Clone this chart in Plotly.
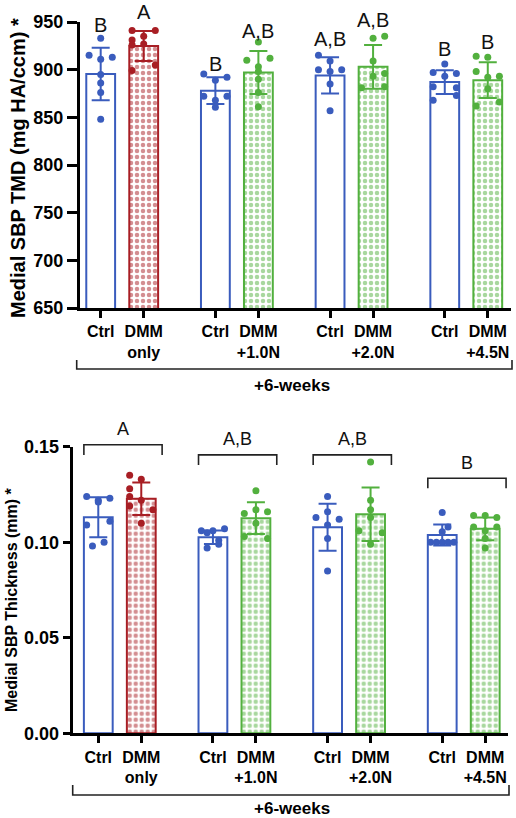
import plotly.graph_objects as go

# ---------------- data ----------------
group_names = ["only", "+1.0N", "+2.0N", "+4.5N"]
ctrl_label = "Ctrl"
dmm_label = "DMM"
bracket_label = "+6-weeks"

# Top panel: Medial SBP TMD (mg HA/ccm)
tmd_means = [895.5, 924.8, 878.0, 897.0, 894.0, 903.0, 887.0, 889.0]
tmd_sd = [27.5, 15.8, 14.0, 22.5, 19.0, 23.0, 12.5, 18.7]
tmd_points = [
    [933, 915, 913, 911, 895, 886, 876, 848],
    [941, 941, 935, 931, 927, 926, 905, 899],
    [895.5, 892, 889, 872, 872, 868, 860.5],
    [929, 912, 910, 903, 898, 890, 876, 861],
    [915, 909, 900, 898, 900, 885, 857],
    [935, 933, 909, 896, 893, 882, 881],
    [906, 897, 896, 893, 882, 881, 873, 868],
    [914, 913, 898, 893, 892, 880, 866, 862],
]
tmd_cols = [
    [0, -1, 1, 0, 0, 0, 0, 0],
    [-1, 1, 0, -1, 0, -1, 1, -1],
    [-1, 1, 0, -1, 1, 0, 0],
    [0, 1, -1, 0, 0, 0, 0, 0],
    [-1, 0, -1, 0, 1, 0, 0],
    [1, 0, 0, 1, 0, 1, -1],
    [0, -1, 1, 0, -1, 1, 1, -1],
    [-1, 0, -1, 1, 0, 0, 1, -1],
]
tmd_letters = ["B", "A", "B", "A,B", "A,B", "A,B", "B", "B"]
tmd_letter_y = [947, 960, 906, 941, 932, 952, 922, 929]
tmd_range = [650, 950]
tmd_ticks = [650, 700, 750, 800, 850, 900, 950]

# Bottom panel: Medial SBP Thickness (mm)
thk_means = [0.1131, 0.1228, 0.1026, 0.1126, 0.1078, 0.1146, 0.1038, 0.1070]
thk_sd = [0.0105, 0.0085, 0.0035, 0.0083, 0.0123, 0.0140, 0.0055, 0.0060]
thk_points = [
    [0.124, 0.123, 0.122, 0.121, 0.111, 0.109, 0.100, 0.098],
    [0.135, 0.133, 0.128, 0.124, 0.122, 0.119, 0.117, 0.110],
    [0.107, 0.106, 0.106, 0.105, 0.101, 0.099, 0.097],
    [0.127, 0.117, 0.116, 0.115, 0.110, 0.103, 0.102],
    [0.124, 0.116, 0.113, 0.112, 0.109, 0.102, 0.085],
    [0.142, 0.122, 0.117, 0.113, 0.106, 0.105, 0.099],
    [0.1155, 0.108, 0.1055, 0.100, 0.100, 0.100, 0.100, 0.100],
    [0.114, 0.114, 0.113, 0.108, 0.108, 0.106, 0.102, 0.097],
]
thk_cols = [
    [-1, 1, 0, 0, 1, -1, 0.5, -0.5],
    [-1, 0, -1, -1, 0, -1, 1, 0],
    [1, -1, 0, -0.5, 0.5, 0.5, -0.5],
    [0, 0, 1, -1, 0, -1, 1],
    [0, 0, -1, 1, 0, 0, 0],
    [0, 0, 0, 0, -1, 1, 0],
    [0, 0.5, 0, -1, -0.5, 0, 0.5, 1],
    [-1, 0, 1, -1, 1, 0, 0, 0],
]
thk_group_letters = ["A", "A,B", "A,B", "B"]
thk_bracket_y = [0.151, 0.1457, 0.1457, 0.1335]
thk_range = [0, 0.15]
thk_ticks = [0.00, 0.05, 0.10, 0.15]
thk_ticktext = ["0.00", "0.05", "0.10", "0.15"]

# ---------------- style ----------------
BLUE = "#3a5cbd"
RED = "#a81e24"
GREEN = "#52b03e"
FONT = "Liberation Sans, Arial, sans-serif"
W, H = 516, 818
GROUP_STEP = 8 / 3
BAR_W = 0.67
JIT = 0.27

def px_x(p):
    return p / W

def px_y(p):
    return 1 - p / H

def dom(v, rng):
    return (v - rng[0]) / (rng[1] - rng[0])

positions = []
for g in range(4):
    positions += [g * GROUP_STEP, g * GROUP_STEP + 1]
bar_colors = [BLUE, RED, BLUE, GREEN, BLUE, GREEN, BLUE, GREEN]
ticktext = []
for gname in group_names:
    ticktext += [ctrl_label, dmm_label + "<br>" + gname]

fig = go.Figure()

def add_panel(means, sds, points, cols, xa, ya):
    for i in range(8):
        c = bar_colors[i]
        is_ctrl = (i % 2 == 0)
        marker = dict(color="white", line=dict(color=c, width=2))
        if not is_ctrl:
            marker["pattern"] = dict(shape=".", fgcolor=c, bgcolor="white",
                                     size=6, solidity=0.45, fillmode="overlay")
        fig.add_trace(go.Bar(
            x=[positions[i]], y=[means[i]], width=BAR_W, marker=marker,
            error_y=dict(type="data", array=[sds[i]], color=c, thickness=2, width=9),
            xaxis=xa, yaxis=ya, showlegend=False, hoverinfo="skip"))
    for i in range(8):
        c = bar_colors[i]
        fig.add_trace(go.Scatter(
            x=[positions[i] + JIT * k for k in cols[i]], y=points[i],
            mode="markers", marker=dict(color=c, size=7),
            xaxis=xa, yaxis=ya, showlegend=False, hoverinfo="skip", cliponaxis=False))

add_panel(tmd_means, tmd_sd, tmd_points, tmd_cols, "x", "y")
add_panel(thk_means, thk_sd, thk_points, thk_cols, "x2", "y2")

axis_common = dict(showgrid=False, zeroline=False, showline=True, linecolor="black",
                   linewidth=3, ticks="outside", tickcolor="black", fixedrange=True,
                   automargin=False)
xtick_font = dict(family=FONT, size=16, color="black", weight="bold")
ytick_font = dict(family=FONT, size=18, color="black", weight="bold")

fig.update_layout(
    template="none",
    width=W, height=H, margin=dict(l=0, r=0, t=0, b=0, pad=0), autosize=False,
    paper_bgcolor="white", plot_bgcolor="white", barmode="overlay",
    xaxis=dict(axis_common, domain=[px_x(80), px_x(511)], range=[-0.481, 9.54],
               tickvals=positions, ticktext=ticktext, ticklen=7, tickwidth=2.5,
               tickfont=xtick_font, anchor="y"),
    yaxis=dict(axis_common, domain=[px_y(308), px_y(22)], range=tmd_range,
               tickvals=tmd_ticks, ticklen=10, tickwidth=3, tickfont=ytick_font,
               anchor="x"),
    xaxis2=dict(axis_common, domain=[px_x(72.7), px_x(508)], range=[-0.595, 9.53],
                tickvals=positions, ticktext=ticktext, ticklen=7, tickwidth=2.5,
                tickfont=xtick_font, anchor="y2"),
    yaxis2=dict(axis_common, domain=[px_y(733.3), px_y(446.7)], range=thk_range,
                tickvals=thk_ticks, ticktext=thk_ticktext, ticklen=7, tickwidth=3,
                tickfont=ytick_font, anchor="x2"),
)

annotations = []
shapes = []

# letters above bars (top)
for i in range(8):
    annotations.append(dict(x=positions[i], y=dom(tmd_letter_y[i], tmd_range),
                            xref="x", yref="y domain",
                            text=tmd_letters[i], showarrow=False, yanchor="middle",
                            xanchor="center",
                            font=dict(family=FONT, size=20, color="#111")))

# brackets with letters (bottom)
for g in range(4):
    x0 = g * GROUP_STEP - 0.335
    x1 = g * GROUP_STEP + 1.485
    yb = dom(thk_bracket_y[g], thk_range)
    yv = dom(thk_bracket_y[g] - 0.0053, thk_range)
    shapes.append(dict(type="path", xref="x2", yref="y2 domain",
                       path=f"M {x0} {yv} L {x0} {yb} L {x1} {yb} L {x1} {yv}",
                       line=dict(color="#222", width=1.6)))
    annotations.append(dict(x=(x0 + x1) / 2, y=dom(thk_bracket_y[g] + 0.0018, thk_range),
                            xref="x2", yref="y2 domain",
                            text=thk_group_letters[g], showarrow=False, yanchor="bottom",
                            xanchor="center",
                            font=dict(family=FONT, size=18, color="#111")))

# +6-weeks brackets
for (xl, xr, ytop, ybot, ytext) in [(76.7, 512, 360, 369, 385), (72.7, 509, 785, 795, 808)]:
    shapes.append(dict(type="path", xref="paper", yref="paper",
                       path=f"M {px_x(xl)} {px_y(ytop)} L {px_x(xl)} {px_y(ybot)} L {px_x(xr)} {px_y(ybot)} L {px_x(xr)} {px_y(ytop)}",
                       line=dict(color="#222", width=1.6)))
    annotations.append(dict(x=px_x(291.5), y=px_y(ytext), xref="paper", yref="paper",
                            text=bracket_label, showarrow=False, yanchor="middle",
                            xanchor="center",
                            font=dict(family=FONT, size=17, color="black", weight="bold")))

# y-axis titles
annotations.append(dict(x=px_x(18), y=px_y(168), xref="paper", yref="paper",
                        xanchor="center", yanchor="middle",
                        text="Medial SBP TMD (mg HA/ccm) *", textangle=-90, showarrow=False,
                        font=dict(family=FONT, size=20, color="black", weight="bold")))
annotations.append(dict(x=px_x(11), y=px_y(600), xref="paper", yref="paper",
                        xanchor="center", yanchor="middle",
                        text="Medial SBP Thickness (mm) *", textangle=-90, showarrow=False,
                        font=dict(family=FONT, size=16, color="black", weight="bold")))

fig.update_layout(annotations=annotations, shapes=shapes)
fig.write_html("out.html", config={"displayModeBar": False},
               post_script="document.body.style.margin='0';document.body.style.overflow='hidden';")
